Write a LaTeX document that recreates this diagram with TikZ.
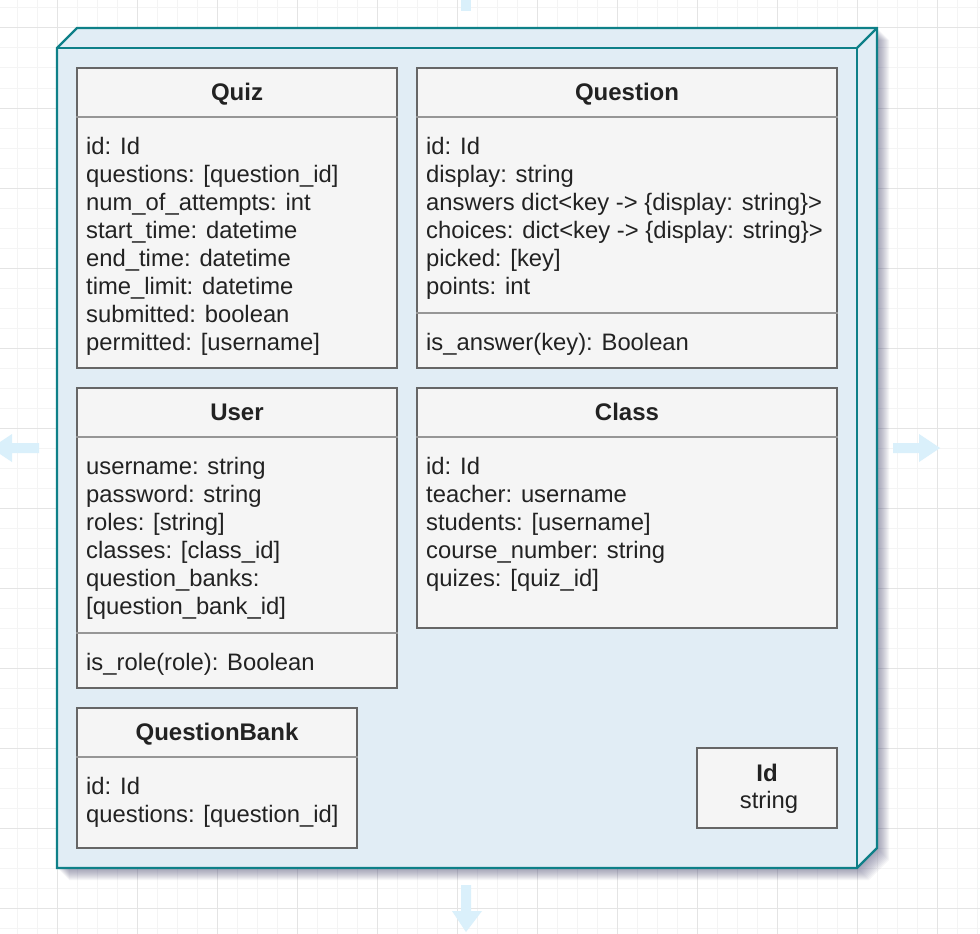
\documentclass[tikz,border=0pt]{standalone}
\usepackage{fontspec}
\setmainfont{Liberation Sans}
\definecolor{gridminor}{RGB}{244,244,244}
\definecolor{gridmajor}{RGB}{228,228,228}
\definecolor{hoverarrow}{RGB}{218,240,251}
\definecolor{nodefill}{RGB}{225,237,245}
\definecolor{nodeline}{RGB}{14,128,136}
\definecolor{shadowcol}{RGB}{80,80,120}
\definecolor{umlfill}{RGB}{245,245,245}
\definecolor{umlline}{RGB}{102,102,102}
\definecolor{sepline}{RGB}{150,150,150}
\definecolor{txt}{RGB}{34,34,34}
\begin{document}
\begin{tikzpicture}[x=1pt,y=-1pt,
  minorgrid/.style={draw=gridminor,line width=1},
  majorgrid/.style={draw=gridmajor,line width=1},
  hover/.style={fill=hoverarrow,draw=none},
  umlbox/.style={draw=umlline,fill=umlfill,line width=2,rectangle,inner sep=0},
  sepstyle/.style={draw=sepline,line width=2},
  titlestyle/.style={anchor=base,inner sep=0,text=txt,font=\fontsize{24}{28}\selectfont\bfseries},
  attr/.style={anchor=base west,inner sep=0,text=txt,font=\fontsize{23.8}{28}\selectfont},
  centertext/.style={anchor=base,inner sep=0,text=txt,font=\fontsize{23.8}{28}\selectfont}
]
\useasboundingbox (0,0) rectangle (980,934);
\fill[white] (0,0) rectangle (980,934);
% grid
\foreach \x in {17,37,...,977} \draw[minorgrid] (\x,0) -- (\x,934);
\foreach \y in {8,28,...,928} \draw[minorgrid] (0,\y) -- (980,\y);
\foreach \x in {57,137,...,937} \draw[majorgrid] (\x,0) -- (\x,934);
\foreach \y in {28,108,...,908} \draw[majorgrid] (0,\y) -- (980,\y);
% hover arrows
\fill[hover] (461,0) rectangle (471,11);
\fill[hover] (893,443) -- (919,443) -- (919,434) -- (940,448) -- (919,462) -- (919,453) -- (893,453) -- cycle;
\fill[hover] (39,443) -- (12,443) -- (12,434) -- (-9,448) -- (12,462) -- (12,453) -- (39,453) -- cycle;
\fill[hover] (461,885) -- (471,885) -- (471,911) -- (482,911) -- (466,932) -- (452,911) -- (461,911) -- cycle;
% shadow of the 3D box
\foreach \s in {1,...,12}
  \fill[shadowcol,opacity=0.055] (57+\s,48+\s) -- (77+\s,28+\s) -- (877+\s,28+\s) -- (877+\s,848+\s) -- (857+\s,868+\s) -- (57+\s,868+\s) -- cycle;
% 3D box
\fill[nodefill] (57,48) -- (77,28) -- (877,28) -- (877,848) -- (857,868) -- (57,868) -- cycle;
\draw[nodeline,line width=2.2,line join=miter] (57,48) -- (77,28) -- (877,28) -- (877,848) -- (857,868) -- (57,868) -- cycle;
\draw[nodeline,line width=2.2] (57,48) -- (857,48) -- (857,868);
\draw[nodeline,line width=2.2] (857,48) -- (877,28);

% Quiz
\node[umlbox,minimum width=320,minimum height=300] (quiz) at (237,218) {};
\draw[sepstyle] ([yshift=-50]quiz.north west) -- ([yshift=-50]quiz.north east);
\node[titlestyle] (quizT) at ([yshift=-33.5]quiz.north) {Quiz};
\foreach \t [count=\i] in {{id: Id},{questions: [question\_id]},{num\_of\_attempts: int},{start\_time: datetime},{end\_time: datetime},{time\_limit: datetime},{submitted: boolean},{permitted: [username]}}
  \node[attr] (quizA\i) at (86,{154+28*(\i-1)}) {\t};

% Question
\node[umlbox,minimum width=420,minimum height=300] (question) at (627,218) {};
\draw[sepstyle] ([yshift=-50]question.north west) -- ([yshift=-50]question.north east);
\draw[sepstyle] ([yshift=56]question.south west) -- ([yshift=56]question.south east);
\node[titlestyle] (questionT) at ([yshift=-33.5]question.north) {Question};
\foreach \t [count=\i] in {{id: Id},{display: string},{answers dict<key -> \{display: string\}>},{choices: dict<key -> \{display: string\}>},{picked: [key]},{points: int}}
  \node[attr] (questionA\i) at (426,{154+28*(\i-1)}) {\t};
\node[attr] (questionM) at (426,350) {is\_answer(key): Boolean};

% User
\node[umlbox,minimum width=320,minimum height=300] (user) at (237,538) {};
\draw[sepstyle] ([yshift=-50]user.north west) -- ([yshift=-50]user.north east);
\draw[sepstyle] ([yshift=56]user.south west) -- ([yshift=56]user.south east);
\node[titlestyle] (userT) at ([yshift=-33.5]user.north) {User};
\foreach \t [count=\i] in {{username: string},{password: string},{roles: [string]},{classes: [class\_id]},{question\_banks:},{[question\_bank\_id]}}
  \node[attr] (userA\i) at (86,{474+28*(\i-1)}) {\t};
\node[attr] (userM) at (86,670) {is\_role(role): Boolean};

% Class
\node[umlbox,minimum width=420,minimum height=240] (class) at (627,508) {};
\draw[sepstyle] ([yshift=-50]class.north west) -- ([yshift=-50]class.north east);
\node[titlestyle] (classT) at ([yshift=-33.5]class.north) {Class};
\foreach \t [count=\i] in {{id: Id},{teacher: username},{students: [username]},{course\_number: string},{quizes: [quiz\_id]}}
  \node[attr] (classA\i) at (426,{474+28*(\i-1)}) {\t};

% QuestionBank
\node[umlbox,minimum width=280,minimum height=140] (qbank) at (217,778) {};
\draw[sepstyle] ([yshift=-50]qbank.north west) -- ([yshift=-50]qbank.north east);
\node[titlestyle] (qbankT) at ([yshift=-33.5]qbank.north) {QuestionBank};
\foreach \t [count=\i] in {{id: Id},{questions: [question\_id]}}
  \node[attr] (qbankA\i) at (86,{794+28*(\i-1)}) {\t};

% Id
\node[umlbox,minimum width=140,minimum height=80] (idbox) at (767,788) {};
\node[titlestyle] (idT) at (767,781) {Id};
\node[centertext] (idS) at (769,808) {string};
\end{tikzpicture}
\end{document}
